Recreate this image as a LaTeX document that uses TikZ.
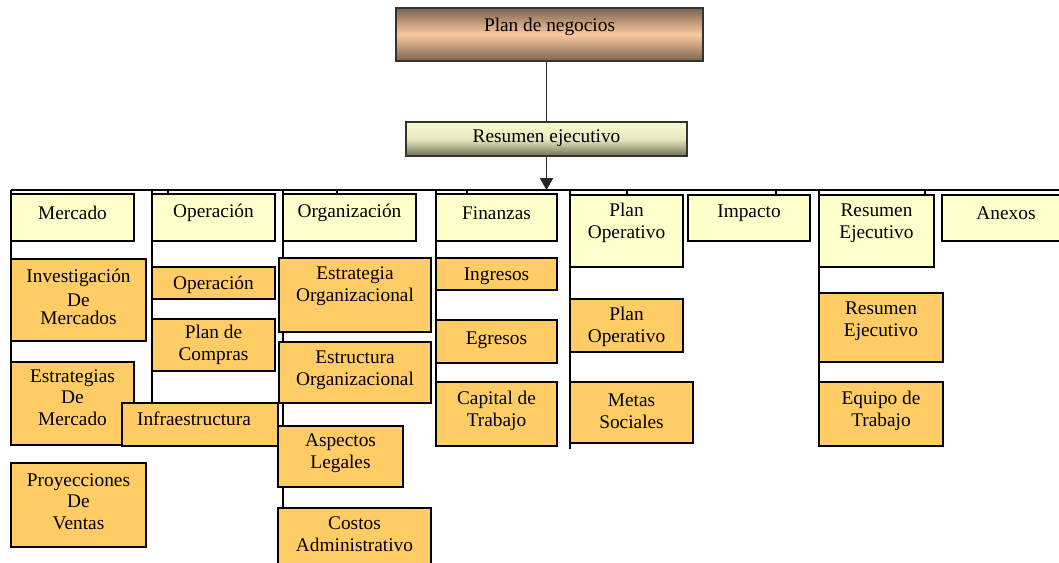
\documentclass[tikz,border=0pt]{standalone}
\usepackage{fontspec}
\setmainfont{Liberation Serif}
\usetikzlibrary{fit,shadows,arrows.meta,backgrounds}
\definecolor{lvlone}{RGB}{255,255,204}
\definecolor{lvltwo}{RGB}{255,204,102}
\definecolor{brownd}{RGB}{125,98,78}
\definecolor{peach}{RGB}{250,202,160}
\definecolor{ylight}{RGB}{250,250,208}
\definecolor{olived}{RGB}{112,112,88}
\tikzset{
  basebox/.style={draw=black, line width=1.3pt, inner sep=0pt, outer sep=0pt,
    drop shadow={shadow xshift=0.7pt, shadow yshift=-0.7pt, opacity=0.45}},
  boxone/.style={basebox, fill=lvlone},
  boxtwo/.style={basebox, fill=lvltwo},
  topbox/.style={draw=black!80, line width=0.9pt, inner sep=0pt,
    top color=brownd, bottom color=brownd, middle color=peach},
  execbox/.style={draw=black!80, line width=0.9pt, inner sep=0pt,
    top color=ylight, bottom color=olived, middle color=ylight!88!olived},
  txt/.style={inner sep=0pt, align=center, font=\fontsize{14.5}{16.5}\selectfont},
  bus/.style={line width=1.5pt, black},
  thin/.style={line width=0.8pt, black!85}
}
\newcommand{\bx}[8]{%
  \node[#2, fit={(#3,#4)(#5,#6)}] (#1) {};
  \node[txt] (#1t) at ({(#3+#5)/2},#7) {#8};}
\begin{document}
\begin{tikzpicture}[x={(0.75pt,0)}, y={(0,-0.75pt)}]
\useasboundingbox (0,0) rectangle (1059,562);
% top boxes
\bx{plan}{topbox}{396}{8}{703}{61}{27}{Plan de negocios}
\bx{resumen}{execbox}{406}{122}{687}{156}{138}{Resumen ejecutivo}
% level one
\bx{mercado}{boxone}{11}{194}{134}{241}{213}{Mercado}
\bx{operacion}{boxone}{152}{194}{275}{241}{213}{Operación}
\bx{organizacion}{boxone}{283}{194}{416}{241}{213}{Organización}
\bx{finanzas}{boxone}{436}{194}{557}{241}{213}{Finanzas}
\bx{planop}{boxone}{570}{195}{683}{267}{223}{Plan\\Operativo}
\bx{impacto}{boxone}{688}{195}{810}{241}{213}{Impacto}
\bx{resej}{boxone}{819}{195}{934}{267}{223}{Resumen\\Ejecutivo}
\bx{anexos}{boxone}{942}{195}{1070}{241}{213}{Anexos}
% mercado column
\bx{invm}{boxtwo}{11}{259}{146}{341}{297}{Investigación\\[1pt] De\\[-3pt] Mercados}
\bx{estm}{boxtwo}{11}{362}{134}{445}{397.5}{Estrategias\\[-1pt] De\\ Mercado}
\bx{proy}{boxtwo}{11}{463}{146}{547}{502}{Proyecciones\\[-1pt] De\\ Ventas}
% operacion column
\bx{opsub}{boxtwo}{152}{267}{275}{299}{285}{Operación}
\bx{compras}{boxtwo}{152}{319}{275}{371}{344.5}{Plan de\\Compras}
\node[boxtwo, fit={(122,403)(278,446)}] (infra) {};
\node[txt] (infrat) at (194,419) {Infraestructura};
% organizacion column
\bx{estorg}{boxtwo}{279}{258}{431}{332}{286.5}{Estrategia\\Organizacional}
\bx{estrorg}{boxtwo}{279}{342}{431}{403}{370.5}{Estructura\\Organizacional}
\bx{aspectos}{boxtwo}{278}{426}{403}{487}{453}{Aspectos\\Legales}
\bx{costos}{boxtwo}{278}{508}{431}{585}{534.5}{Costos\\Administrativo}
% finanzas column
\bx{ingresos}{boxtwo}{436}{258}{557}{290}{276}{Ingresos}
\bx{egresos}{boxtwo}{436}{320}{557}{363}{340}{Egresos}
\bx{capital}{boxtwo}{436}{382}{557}{446}{411}{Capital de\\Trabajo}
% plan operativo column
\bx{planopsub}{boxtwo}{570}{299}{683}{352}{326.5}{Plan\\Operativo}
\bx{metas}{boxtwo}{570}{382}{693}{443}{411}{Metas\\Sociales}
% resumen ejecutivo column
\bx{resejsub}{boxtwo}{819}{293}{943}{362}{321.5}{Resumen\\Ejecutivo}
\bx{equipo}{boxtwo}{819}{382}{943}{446}{411}{Equipo de\\Trabajo}
% connectors
\coordinate (busl) at (11,190);
\coordinate (busr) at (1066,190);
\coordinate (t1) at (168,190);
\coordinate (t2) at (337,190);
\coordinate (t3) at (467,190);
\coordinate (t4) at (627,190);
\coordinate (t5) at (776,190);
\coordinate (t6) at (925,190);
\coordinate (planopend) at (570,449);
\begin{scope}[on background layer]
\draw[thin] (resumen.north |- plan.south) -- (resumen.north);
\draw[bus] (busl) -- (busr);
\draw[bus] (busl) -- (estm.south west);
\draw[bus] (operacion.west |- busl) -- (infra.north -| operacion.west);
\draw[bus] (organizacion.west |- busl) -- (costos.north -| organizacion.west);
\draw[bus] (finanzas.west |- busl) -- (capital.north -| finanzas.west);
\draw[bus] (planop.west |- busl) -- (planopend);
\draw[bus] (resej.west |- busl) -- (equipo.north -| resej.west);
\foreach \t/\b in {t1/operacion,t2/organizacion,t3/finanzas,t4/planop,t5/impacto,t6/resej}
  \draw[bus] (\t) -- (\t |- \b.north);
\end{scope}
\draw[thin, -{Triangle[length=9pt,width=10pt]}] (resumen.south) -- (resumen.south |- busl);
\end{tikzpicture}
\end{document}
